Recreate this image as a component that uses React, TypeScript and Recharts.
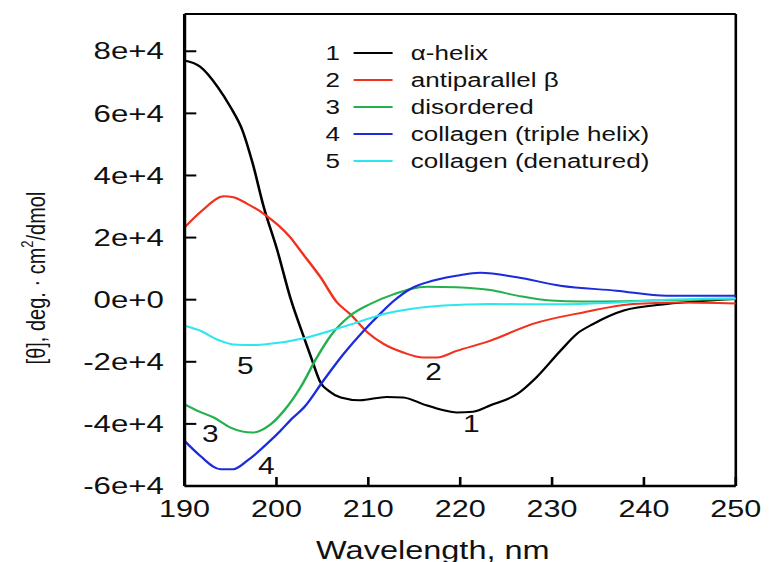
import { Legend, Line, LineChart, ReferenceDot, ReferenceLine, XAxis, YAxis } from "recharts";

// the reference is stretched sideways, so the chart is drawn narrow and scaled
const STRETCH = 1.3;
const W = 596;
const H = 562;
const FONT = '"Liberation Sans", Arial, Helvetica, sans-serif';
const INK = "#111";

const wavelengthTicks = [190, 200, 210, 220, 230, 240, 250];
const thetaTicks = [-60000, -40000, -20000, 0, 20000, 40000, 60000, 80000];

const helixNm = [190, 191.7, 193.6, 195, 196.3, 197.4, 198.6, 200.1, 201.5, 203, 203.9, 204.8, 205.7, 207, 209.1, 212, 213.8, 216, 218.2, 219.6, 221.4, 223.3, 226.2, 228.3, 230.9, 232.7, 234.5, 237.8, 242.5, 246, 250];
const helixTheta = [77000, 75000, 68500, 62000, 54500, 44000, 30000, 15800, 700, -12200, -19700, -26700, -29400, -31500, -32400, -31300, -31500, -33700, -35600, -36300, -36100, -34000, -30400, -25000, -16500, -11000, -7800, -3500, -1400, -500, 200];

const betaNm = [190, 191.9, 194.3, 195.3, 196.8, 198.6, 201.5, 202.6, 204.8, 206.6, 208, 209.9, 211.7, 213.8, 216, 217.5, 219.6, 223.3, 227.9, 233.4, 238.8, 244, 250];
const betaTheta = [23300, 28700, 33300, 33000, 30900, 27700, 20100, 15800, 7200, -900, -4600, -10500, -14300, -17000, -18600, -18600, -16500, -13200, -7800, -4100, -1400, -900, -1200];

const disorderedNm = [190, 191.4, 193.2, 195, 197.4, 199.3, 200.8, 202.6, 204.4, 205.9, 208, 210.2, 212.8, 216.4, 219.6, 223.3, 226.2, 229.8, 233.4, 240.7, 250];
const disorderedTheta = [-33700, -35800, -38000, -41200, -42800, -40300, -35800, -28300, -18600, -11600, -5200, -1400, 1800, 4200, 4000, 3100, 1300, -300, -600, -300, 200];

const collagenNm = [190, 191.7, 193.9, 195.3, 196.8, 199.3, 200.4, 201.8, 203, 205.1, 207.3, 209.5, 210.9, 212.8, 214.6, 216.4, 219.6, 222.2, 226.2, 230.9, 237, 242.5, 250];
const collagenTheta = [-45500, -50300, -54600, -54600, -51900, -45500, -42300, -38000, -34700, -26100, -17500, -10000, -5700, -300, 3500, 5600, 7700, 8700, 7200, 4500, 2900, 1300, 1300];

const denaturedNm = [190, 191.7, 193.6, 195.3, 197.5, 199.3, 203, 205.9, 208.8, 211.7, 214.6, 218.2, 223.3, 229.8, 237, 242.5, 250];
const denaturedTheta = [-8400, -10000, -12900, -14400, -14600, -14200, -12400, -10000, -7300, -4600, -3000, -1900, -1400, -1500, -900, 0, 500];

const seriesNames = ["α-helix", "antiparallel β", "disordered", "collagen (triple helix)", "collagen (denatured)"];
const seriesColors = ["#000000", "#f0321e", "#23b14d", "#1c2bdc", "#2ee6ee"];

const tagText = ["1", "2", "3", "4", "5"];
const tagNm = [221.2, 217.1, 192.8, 198.9, 196.6];
const tagTheta = [-40100, -23400, -43300, -53500, -21300];

const zip = (nm: number[], theta: number[]) => nm.map((x, i) => ({ nm: x, theta: theta[i] }));
const series = [
  zip(helixNm, helixTheta),
  zip(betaNm, betaTheta),
  zip(disorderedNm, disorderedTheta),
  zip(collagenNm, collagenTheta),
  zip(denaturedNm, denaturedTheta),
];

const fmtTheta = (v: number) => (v === 0 ? "0e+0" : `${v / 10000}e+4`);

function YTick({ x, y, payload }: any) {
  return (
    <g>
      <line x1={x} x2={x + 9} y1={y} y2={y} stroke="#000" strokeWidth={2} />
      <text x={x - 16} y={y} textAnchor="end" dominantBaseline="central" fontSize={24} fontFamily={FONT} fill={INK}>
        {fmtTheta(payload.value)}
      </text>
    </g>
  );
}

function XTick({ x, y, payload }: any) {
  return (
    <g>
      <line x1={x} x2={x} y1={y} y2={y - 9} stroke="#000" strokeWidth={2} />
      <text x={x} y={y + 31} textAnchor="middle" fontSize={23.5} fontFamily={FONT} fill={INK}>
        {payload.value}
      </text>
    </g>
  );
}

function YTitle({ viewBox }: any) {
  const cx = 28;
  const cy = viewBox.y + viewBox.height / 2 + 28;
  return (
    <text
      x={cx}
      y={cy}
      transform={`rotate(-90, ${cx}, ${cy})`}
      textAnchor="middle"
      dominantBaseline="central"
      fontSize={20}
      fontFamily={FONT}
      fill={INK}
    >
      [θ], deg. · cm<tspan dy={-8} fontSize={13}>2</tspan>
      <tspan dy={8}>/dmol</tspan>
    </text>
  );
}

function XTitle({ viewBox }: any) {
  return (
    <text
      x={viewBox.x + viewBox.width / 2 - 21}
      y={viewBox.y + 73}
      textAnchor="middle"
      fontSize={25}
      fontFamily={FONT}
      fill={INK}
    >
      Wavelength, nm
    </text>
  );
}

// legend keeps the series order (1..5), not the library's sorted payload
function LegendBox() {
  return (
    <div style={{ fontFamily: FONT, fontSize: 20, color: INK, lineHeight: 1 }}>
      {seriesNames.map((name, i) => (
        <div key={name} style={{ display: "flex", alignItems: "center", height: 27 }}>
          <span style={{ width: 16, textAlign: "center" }}>{tagText[i]}</span>
          <span
            style={{ display: "inline-block", width: 30, height: 0, borderTop: `2px solid ${seriesColors[i]}`, margin: "0 14px 0 8px" }}
          />
          <span style={{ whiteSpace: "nowrap" }}>{name}</span>
        </div>
      ))}
    </div>
  );
}

export default function App() {
  return (
    <div style={{ position: "absolute", left: 0, top: 0, width: 775, height: 562, overflow: "hidden", background: "#fff" }}>
      <div style={{ width: W, height: H, transform: `scaleX(${STRETCH})`, transformOrigin: "0 0" }}>
        <LineChart width={W} height={H} margin={{ top: 14, right: 30, bottom: 0, left: 0 }}>
          <XAxis
            dataKey="nm"
            type="number"
            domain={[190, 250]}
            ticks={wavelengthTicks}
            allowDataOverflow
            height={76}
            tickSize={0}
            tickMargin={0}
            tickLine={false}
            tick={<XTick />}
            axisLine={{ stroke: "#000", strokeWidth: 2.5 }}
            label={{ content: (p: any) => <XTitle {...p} /> }}
          />
          <YAxis
            type="number"
            domain={[-60000, 92000]}
            ticks={thetaTicks}
            allowDataOverflow
            width={142}
            tickSize={0}
            tickMargin={0}
            tickLine={false}
            tick={<YTick />}
            axisLine={{ stroke: "#000", strokeWidth: 2.5 }}
            label={{ content: (p: any) => <YTitle {...p} /> }}
          />
          <ReferenceLine y={92000} stroke="#000" strokeWidth={2} />
          <ReferenceLine x={250} stroke="#000" strokeWidth={2} />
          <Legend
            layout="vertical"
            align="center"
            verticalAlign="middle"
            content={<LegendBox />}
            wrapperStyle={{ top: 39.5, left: 248, width: 300 }}
          />
          {series.map((d, i) => (
            <Line
              key={seriesNames[i]}
              data={d}
              dataKey="theta"
              name={seriesNames[i]}
              type="monotone"
              stroke={seriesColors[i]}
              strokeWidth={2}
              dot={false}
              activeDot={false}
              isAnimationActive={false}
            />
          ))}
          {tagText.map((t, i) => (
            <ReferenceDot
              key={t}
              x={tagNm[i]}
              y={tagTheta[i]}
              r={0}
              fill="none"
              stroke="none"
              ifOverflow="visible"
              label={{ value: t, position: "center", fontSize: 23, fill: INK, fontFamily: FONT }}
            />
          ))}
        </LineChart>
      </div>
    </div>
  );
}
